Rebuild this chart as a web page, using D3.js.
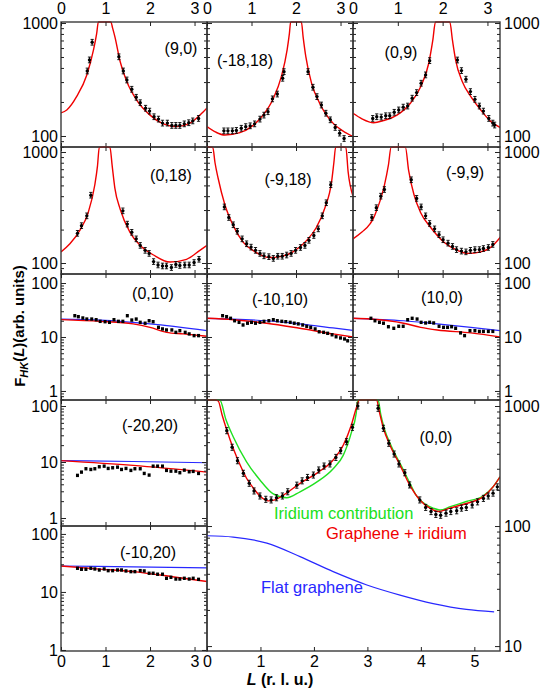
<!doctype html>
<html>
<head>
  <meta charset="utf-8">
  <title>F_HK(L)</title>
  <style>
    body { margin: 0; background: #fff; }
    svg { display: block; font-family: "Liberation Sans", Arial, sans-serif; }
  </style>
</head>
<body>
  <div id="chart"></div>

  <script src="https://d3js.org/d3.v7.min.js"></script>

  <script>
    // ---- fits (red), flat graphene (blue), iridium (green), measured points: [L, value]
    var fit_9_0 = [[0,160],[0.13,170],[0.35,223],[0.58,347],[0.73,577],[0.80,800],[0.84,1050],[1.0,3000],[1.12,1050],[1.16,900],[1.21,757],[1.33,454],[1.48,302],[1.70,208],[2.0,153],[2.3,128],[2.6,121],[2.9,130],[3.2,164],[3.28,177]];
    var obs_9_0 = [[0.59,376],[0.64,471],[0.70,675],[1.30,502],[1.40,376],[1.48,313],[1.59,259],[1.69,220],[1.78,197],[1.90,176],[1.99,166],[2.09,148],[2.19,141],[2.28,130],[2.39,130],[2.49,124],[2.58,124],[2.67,124],[2.77,128],[2.87,131],[2.96,136],[3.09,143]];

    var fit_m18_18 = [[0,121],[0.2,108],[0.4,102],[0.74,107],[1.0,121],[1.26,153],[1.49,215],[1.67,335],[1.80,577],[1.85,800],[1.88,1050],[2.0,3000],[2.12,1050],[2.16,750],[2.22,503],[2.35,292],[2.53,195],[2.83,130],[3.05,111],[3.28,99]];
    var obs_m18_18 = [[0.38,111],[0.47,111],[0.57,111],[0.66,112],[0.77,117],[0.87,121],[0.97,123],[1.07,128],[1.19,141],[1.28,153],[1.37,164],[1.47,213],[1.58,235],[1.70,324],[1.73,371],[2.27,371],[2.38,270],[2.47,223],[2.57,188],[2.67,159],[2.77,139],[2.88,119],[2.98,106],[3.08,95]];

    var fit_0_9 = [[0,159],[0.2,142],[0.46,131],[0.68,137],[0.98,153],[1.28,195],[1.51,273],[1.69,440],[1.78,700],[1.84,1050],[2.0,3000],[2.16,1050],[2.22,700],[2.29,470],[2.44,302],[2.63,223],[2.85,170],[3.08,134],[3.32,117]];
    var obs_0_9 = [[0.44,143],[0.53,148],[0.63,147],[0.73,151],[0.82,151],[0.92,162],[1.02,170],[1.12,180],[1.22,184],[1.32,216],[1.42,242],[1.52,293],[1.62,347],[1.71,464],[2.33,470],[2.42,379],[2.52,318],[2.62,247],[2.72,211],[2.82,184],[2.91,166],[3.03,143],[3.12,130],[3.16,125]];

    var fit_0_18 = [[0,126],[0.20,149],[0.43,199],[0.61,284],[0.76,507],[0.82,750],[0.86,1100],[1.0,3000],[1.10,1100],[1.15,750],[1.21,473],[1.33,305],[1.55,189],[1.78,144],[2.08,118],[2.45,102],[2.82,108],[3.12,130],[3.28,144]];
    var obs_0_18 = [[0.37,185],[0.46,217],[0.58,266],[0.67,408],[1.39,295],[1.49,224],[1.59,189],[1.69,165],[1.78,144],[1.89,130],[1.98,122],[2.08,103],[2.18,96],[2.28,94],[2.37,94],[2.48,91],[2.58,97],[2.67,95],[2.78,96],[2.88,96],[2.99,101],[3.10,108]];

    var fit_m9_18 = [[0,1500],[0.13,1100],[0.18,800],[0.25,580],[0.40,337],[0.59,217],[0.81,154],[1.08,126],[1.41,112],[1.64,114],[1.93,126],[2.24,160],[2.46,210],[2.65,315],[2.80,543],[2.85,800],[2.89,1100],[3.0,3000],[3.12,1100],[3.17,665],[3.28,400]];
    var obs_m9_18 = [[0.39,320],[0.49,257],[0.59,221],[0.68,193],[0.79,165],[0.89,149],[0.99,139],[1.09,130],[1.19,122],[1.28,116],[1.39,114],[1.49,110],[1.59,115],[1.69,115],[1.79,118],[1.89,122],[1.99,130],[2.10,138],[2.20,144],[2.29,160],[2.40,177],[2.50,203],[2.59,266],[2.68,349],[2.78,507]];

    var fit_m9_9 = [[0,165],[0.2,190],[0.38,225],[0.46,255],[0.53,300],[0.62,380],[0.70,500],[0.79,760],[0.85,1100],[1.0,3000],[1.17,1100],[1.24,688],[1.36,414],[1.51,284],[1.73,210],[2.03,154],[2.33,130],[2.56,122],[2.85,126],[3.08,139],[3.30,173]];
    var obs_m9_9 = [[0.42,257],[0.52,315],[0.62,400],[0.70,459],[1.30,562],[1.42,382],[1.52,320],[1.62,266],[1.71,227],[1.82,203],[1.92,180],[2.01,162],[2.12,151],[2.22,141],[2.31,132],[2.42,128],[2.52,126],[2.62,130],[2.72,132],[2.82,132],[2.91,135],[3.02,138],[3.12,147]];

    var fit_0_10 = [[0,21],[0.88,19.5],[1.62,17.5],[2.0,15.1],[2.37,12.2],[2.75,11.4],[3.28,10.3]];
    var flat_0_10 = [[0,21.5],[0.88,20.6],[2.0,17.5],[3.28,13.1]];
    var obs_0_10 = [[0.31,24.8],[0.39,23.8],[0.49,22.5],[0.58,21.5],[0.69,21.5],[0.79,20.9],[0.88,19.5],[0.99,19.2],[1.09,18.7],[1.19,20.9],[1.29,19.5],[1.39,19.5],[1.49,24.8],[1.59,20.6],[1.69,21.5],[1.78,18.7],[1.89,18.0],[1.98,20.0],[2.07,19.2],[2.19,15.1],[2.28,14.1],[2.37,13.5],[2.49,13.5],[2.58,12.2],[2.67,13.1],[2.79,12.2],[2.88,11.4],[2.99,10.6],[3.09,10.6]];

    var fit_m10_10 = [[0,22.2],[0.59,20.9],[1.34,18.0],[2.08,14.5],[2.83,11.4],[3.28,10.0]];
    var flat_m10_10 = [[0,22.2],[0.59,21.5],[1.34,20.0],[2.08,17.5],[2.83,14.7],[3.28,13.2]];
    var obs_m10_10 = [[0.35,24.8],[0.44,23.8],[0.53,22.2],[0.62,20.0],[0.72,18.7],[0.81,16.7],[0.91,18.0],[1.00,18.7],[1.09,18.0],[1.19,18.7],[1.28,19.5],[1.39,20.0],[1.49,20.9],[1.58,20.0],[1.68,19.5],[1.77,19.2],[1.87,18.7],[1.96,18.0],[2.05,17.5],[2.15,16.7],[2.24,15.8],[2.33,15.1],[2.43,14.1],[2.52,12.5],[2.62,12.2],[2.71,11.7],[2.81,11.0],[2.90,10.1],[3.00,9.6],[3.09,9.2],[3.16,8.5]];

    var fit_10_0 = [[0,22.2],[0.38,21.5],[1.13,18.0],[1.51,15.1],[1.88,13.5],[2.63,11.9],[3.30,10.0]];
    var flat_10_0 = [[0,22.2],[1.13,20.0],[1.88,17.5],[2.63,15.1],[3.30,13.1]];
    var obs_10_0 = [[0.40,22.2],[0.49,20.0],[0.59,18.7],[0.68,18.0],[0.79,15.5],[0.91,14.5],[1.02,15.8],[1.12,15.8],[1.22,20.9],[1.32,22.2],[1.43,21.5],[1.52,18.7],[1.62,18.2],[1.71,18.7],[1.80,18.2],[1.92,15.8],[2.02,15.1],[2.11,15.1],[2.20,15.5],[2.29,14.5],[2.40,11.9],[2.49,10.6],[2.61,13.1],[2.72,13.1],[2.82,12.7],[2.91,12.7],[3.02,12.7],[3.12,12.7]];

    var fit_m20_20 = [[0,10.6],[1.62,8.7],[3.28,6.6]];
    var flat_m20_20 = [[0,10.6],[1.62,10.2],[3.28,9.7]];
    var obs_m20_20 = [[0.37,5.77],[0.46,6.60],[0.56,7.58],[0.67,7.36],[0.76,7.58],[0.86,8.22],[0.97,8.43],[1.06,7.68],[1.16,7.89],[1.27,8.09],[1.36,7.36],[1.46,7.68],[1.57,7.08],[1.66,7.58],[1.78,7.58],[1.87,6.25],[1.98,5.84],[2.07,8.43],[2.17,8.43],[2.28,8.43],[2.37,7.08],[2.47,6.87],[2.58,6.87],[2.67,6.44],[2.77,7.16],[2.88,6.70],[2.97,6.80],[3.09,6.25]];

    var fit_m10_20 = [[0,28],[0.8,25],[1.62,22.4],[2.5,18.3],[3.28,15.1]];
    var flat_m10_20 = [[0,28],[1.62,27],[3.28,26]];
    var obs_m10_20 = [[0.37,25.6],[0.46,24.6],[0.56,24.6],[0.67,25.6],[0.76,24.9],[0.86,23.9],[0.97,24.9],[1.06,23.3],[1.16,23.3],[1.27,23.9],[1.36,23.9],[1.46,23.0],[1.57,22.4],[1.66,22.4],[1.78,23.3],[1.87,23.0],[1.98,21.0],[2.07,21.0],[2.17,20.2],[2.28,20.2],[2.37,17.2],[2.47,17.9],[2.58,16.7],[2.67,16.7],[2.77,17.2],[2.88,16.7],[2.97,17.2],[3.09,16.5]];

    var fit_0_0 = [[0,1500],[0.15,1250],[0.21,1100],[0.28,850],[0.37,631],[0.49,444],[0.62,322],[0.74,250],[0.87,206],[0.99,178],[1.15,162],[1.27,165],[1.43,181],[1.74,227],[2.05,275],[2.36,355],[2.55,473],[2.70,695],[2.80,987],[2.85,1200],[3.0,3000],[3.17,1200],[3.23,869],[3.30,652],[3.42,473],[3.61,322],[3.79,220],[3.98,165],[4.17,141],[4.32,132],[4.54,141],[4.85,154],[5.16,175],[5.35,212],[5.48,257]];
    var iridium_0_0 = [[0,2000],[0.24,1150],[0.35,780],[0.49,555],[0.74,343],[0.99,242],[1.24,185],[1.49,172],[1.74,193],[2.05,232],[2.36,300],[2.55,390],[2.70,600],[2.79,869],[2.82,1150],[3.0,3000],[3.20,1150],[3.25,850],[3.32,640],[3.45,460],[3.63,320],[3.80,225],[3.92,178],[4.10,150],[4.23,141],[4.36,136],[4.55,145],[4.85,160],[5.16,178],[5.35,212],[5.48,257]];
    var flat_0_0 = [[0,83],[0.49,81],[1.12,72],[1.74,55.6],[2.36,41.7],[2.99,32.3],[3.61,26.6],[4.23,22.6],[4.85,20.2],[5.37,19.3]];
    var obs_0_0 = [[0.37,623],[0.47,453],[0.57,350],[0.68,275],[0.79,227],[0.88,196],[0.99,178],[1.10,167],[1.20,165],[1.30,172],[1.41,178],[1.51,193],[1.68,219],[1.78,238],[1.88,254],[1.99,266],[2.09,293],[2.19,316],[2.30,329],[2.41,373],[2.50,424],[2.61,504],[2.72,664],[2.82,1000],[3.20,957],[3.30,652],[3.40,489],[3.50,398],[3.59,329],[3.70,278],[3.79,220],[3.98,165],[4.09,143],[4.19,132],[4.28,125],[4.37,123],[4.47,128],[4.56,132],[4.67,134],[4.76,141],[4.85,143],[4.96,150],[5.06,159],[5.17,170],[5.26,178],[5.35,188],[5.43,212]];

    var smallTicksL = [0, 1, 2, 3];
    var bigTicksL = [0, 1, 2, 3, 4, 5];
    var legendText = ['Iridium contribution', 'Graphene + iridium', 'Flat graphene'];

    // ---- layout
    var RED = '#f00000', BLUE = '#2828ff', GREEN = '#20e020';
    var colX = [[61, 207], [207, 353], [353, 500]];
    var rowY = [[22, 147, 79.9, 1020], [147, 274, 79.6, 1109], [274, 400, 0.68, 147], [400, 526, 0.72, 128], [526, 651, 0.96, 137]];

    function panel(name, col, row, fit, obs, extra) {
      var p = {
        name: name, x0: colX[col][0], x1: colX[col][1], y0: rowY[row][0], y1: rowY[row][1],
        vmin: rowY[row][2], vmax: rowY[row][3], lmax: 3.28, ticks: smallTicksL,
        fit: fit, obs: obs, bars: row < 2,
        left: col == 0, right: col == 2, top: row == 0, bottom: false
      };
      return Object.assign(p, extra || {});
    }

    var panels = [
      panel('(9,0)', 0, 0, fit_9_0, obs_9_0, { lab: [181, 48] }),
      panel('(-18,18)', 1, 0, fit_m18_18, obs_m18_18, { lab: [245, 60] }),
      panel('(0,9)', 2, 0, fit_0_9, obs_0_9, { lab: [401, 52] }),
      panel('(0,18)', 0, 1, fit_0_18, obs_0_18, { lab: [171, 175] }),
      panel('(-9,18)', 1, 1, fit_m9_18, obs_m9_18, { lab: [288, 179] }),
      panel('(-9,9)', 2, 1, fit_m9_9, obs_m9_9, { lab: [465, 172] }),
      panel('(0,10)', 0, 2, fit_0_10, obs_0_10, { flat: flat_0_10, lab: [153, 293] }),
      panel('(-10,10)', 1, 2, fit_m10_10, obs_m10_10, { flat: flat_m10_10, lab: [280, 299] }),
      panel('(10,0)', 2, 2, fit_10_0, obs_10_0, { flat: flat_10_0, lab: [442, 297] }),
      panel('(-20,20)', 0, 3, fit_m20_20, obs_m20_20, { flat: flat_m20_20, lab: [150, 425] }),
      panel('(-10,20)', 0, 4, fit_m10_20, obs_m10_20, { flat: flat_m10_20, lab: [148, 552], bottom: true }),
      {
        name: '(0,0)', x0: 207, x1: 500, y0: 400, y1: 651, vmin: 9.1, vmax: 1122, lmax: 5.48,
        ticks: bigTicksL, fit: fit_0_0, obs: obs_0_0, flat: flat_0_0, iridium: iridium_0_0,
        bars: true, left: false, right: true, top: false, bottom: true, lab: [436, 437], legend: true
      }
    ];

    var svg = d3.select('#chart').append('svg')
      .attr('width', 542)
      .attr('height', 688);

    function logTicks(lo, hi) {
      var major = [], minor = [];
      for (var k = -1; k <= 4; k++) {
        for (var m = 1; m <= 9; m++) {
          var v = m * Math.pow(10, k);
          if (v < lo * 0.999 || v > hi * 1.001) continue;
          if (m == 1) major.push(v); else minor.push(v);
        }
      }
      return { major: major, minor: minor };
    }

    function styleAxis(g, fs) {
      g.select('.domain').remove();
      g.selectAll('line').attr('stroke', '#222').attr('stroke-width', 1);
      g.selectAll('text').attr('fill', '#000').style('font-size', fs + 'px');
    }

    panels.forEach(function(p, i) {
      var x = d3.scaleLinear().domain([0, p.lmax]).range([p.x0, p.x1]);
      var y = d3.scaleLog().domain([p.vmin, p.vmax]).range([p.y1, p.y0]);
      var g = svg.append('g');

      var clipId = 'clip' + i;
      svg.append('clipPath').attr('id', clipId)
        .append('rect')
        .attr('x', p.x0).attr('y', p.y0 - 1)
        .attr('width', p.x1 - p.x0).attr('height', p.y1 - p.y0 + 2);

      function clamp(v) { return Math.max(p.vmin, Math.min(p.vmax, v)); }
      var line = d3.line()
        .x(function(d) { return x(d[0]); })
        .y(function(d) { return y(clamp(d[1])); })
        .curve(d3.curveMonotoneX);

      var plot = g.append('g').attr('clip-path', 'url(#' + clipId + ')');

      if (p.flat) {
        plot.append('path').datum(p.flat).attr('d', line)
          .attr('fill', 'none').attr('stroke', BLUE).attr('stroke-width', 1.2);
      }
      if (p.iridium) {
        plot.append('path').datum(p.iridium).attr('d', line)
          .attr('fill', 'none').attr('stroke', GREEN).attr('stroke-width', 1.4);
      }
      plot.append('path').datum(p.fit).attr('d', line)
        .attr('fill', 'none').attr('stroke', RED).attr('stroke-width', 1.4);

      // measured points
      var pts = plot.selectAll('g.pt').data(p.obs).enter().append('g');
      if (p.bars) {
        pts.append('line')
          .attr('x1', function(d) { return x(d[0]); })
          .attr('x2', function(d) { return x(d[0]); })
          .attr('y1', function(d) { return y(d[1] * 1.06); })
          .attr('y2', function(d) { return y(d[1] / 1.06); })
          .attr('stroke', '#000').attr('stroke-width', 0.9);
        [1.06, 1 / 1.06].forEach(function(f) {
          pts.append('line')
            .attr('x1', function(d) { return x(d[0]) - 1.6; })
            .attr('x2', function(d) { return x(d[0]) + 1.6; })
            .attr('y1', function(d) { return y(d[1] * f); })
            .attr('y2', function(d) { return y(d[1] * f); })
            .attr('stroke', '#000').attr('stroke-width', 0.9);
        });
        pts.append('circle')
          .attr('cx', function(d) { return x(d[0]); })
          .attr('cy', function(d) { return y(d[1]); })
          .attr('r', 1.7).attr('fill', '#000');
      } else {
        pts.append('rect')
          .attr('x', function(d) { return x(d[0]) - 1.5; })
          .attr('y', function(d) { return y(d[1]) - 1.7; })
          .attr('width', 3).attr('height', 3.4).attr('fill', '#000');
      }

      // frame
      g.append('rect')
        .attr('x', p.x0).attr('y', p.y0)
        .attr('width', p.x1 - p.x0).attr('height', p.y1 - p.y0)
        .attr('fill', 'none').attr('stroke', '#3a3a3a').attr('stroke-width', 1.4);

      // log ticks, inward
      var lt = logTicks(p.vmin, p.vmax);
      var fmt = d3.format('d');
      g.append('g').attr('transform', 'translate(' + p.x0 + ',0)')
        .call(d3.axisLeft(y).tickValues(lt.major).tickSizeInner(-5).tickSizeOuter(0).tickPadding(3)
          .tickFormat(p.left ? fmt : ''))
        .call(styleAxis, 16);
      g.append('g').attr('transform', 'translate(' + p.x0 + ',0)')
        .call(d3.axisLeft(y).tickValues(lt.minor).tickSizeInner(-3).tickSizeOuter(0).tickFormat(''))
        .call(styleAxis, 16);
      g.append('g').attr('transform', 'translate(' + p.x1 + ',0)')
        .call(d3.axisRight(y).tickValues(lt.major).tickSizeInner(-5).tickSizeOuter(0).tickPadding(4)
          .tickFormat(p.right ? fmt : ''))
        .call(styleAxis, 16);
      g.append('g').attr('transform', 'translate(' + p.x1 + ',0)')
        .call(d3.axisRight(y).tickValues(lt.minor).tickSizeInner(-3).tickSizeOuter(0).tickFormat(''))
        .call(styleAxis, 16);

      // L ticks
      g.append('g').attr('transform', 'translate(0,' + p.y0 + ')')
        .call(d3.axisTop(x).tickValues(p.ticks).tickSizeInner(-4).tickSizeOuter(0).tickPadding(8)
          .tickFormat(p.top ? fmt : ''))
        .call(styleAxis, 16);
      g.append('g').attr('transform', 'translate(0,' + p.y1 + ')')
        .call(d3.axisBottom(x).tickValues(p.ticks).tickSizeInner(-4).tickSizeOuter(0).tickPadding(5)
          .tickFormat(p.bottom ? fmt : ''))
        .call(styleAxis, 16);

      // panel label
      g.append('text')
        .attr('x', p.lab[0]).attr('y', p.lab[1])
        .attr('dy', '0.35em')
        .attr('text-anchor', 'middle')
        .style('font-size', '16px')
        .text(p.name);

      if (p.legend) {
        var leg = [[legendText[0], GREEN, 274, 513], [legendText[1], RED, 326, 533], [legendText[2], BLUE, 261, 587]];
        leg.forEach(function(l) {
          g.append('text')
            .attr('x', l[2]).attr('y', l[3]).attr('dy', '0.35em')
            .attr('fill', l[1])
            .style('font-size', '16.5px')
            .text(l[0]);
        });
      }
    });

    // axis titles
    var xt = svg.append('text')
      .attr('x', 280).attr('y', 679).attr('dy', '0.35em')
      .attr('text-anchor', 'middle')
      .style('font-size', '16px').style('font-weight', 'bold');
    xt.append('tspan').style('font-style', 'italic').text('L');
    xt.append('tspan').text(' (r. l. u.)');

    var yt = svg.append('text')
      .attr('transform', 'translate(20,326) rotate(-90)')
      .attr('dy', '0.35em')
      .attr('text-anchor', 'middle')
      .style('font-size', '15px').style('font-weight', 'bold');
    yt.append('tspan').text('F');
    yt.append('tspan').style('font-style', 'italic').style('font-size', '11px').attr('dy', '0.25em').text('HK');
    yt.append('tspan').attr('dy', '-0.25em').text('(');
    yt.append('tspan').style('font-style', 'italic').text('L');
    yt.append('tspan').text(')(arb. units)');
  </script>
</body>
</html>
